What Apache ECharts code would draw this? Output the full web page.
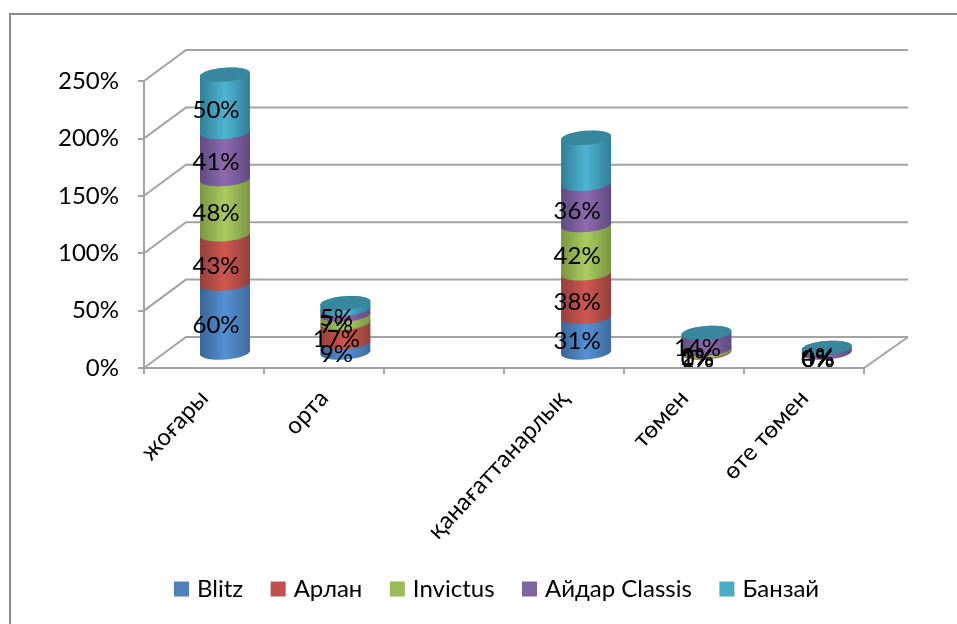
<!DOCTYPE html>
<html>
<head>
<meta charset="utf-8">
<style>html,body{margin:0;padding:0;background:#fff}#chart{width:957px;height:624px}</style>
<script src="https://cdn.jsdelivr.net/npm/echarts@6/dist/echarts.min.js"></script>
</head>
<body>
<div id="chart"></div>
<script>
// Categories and percentages per group; the third slot is an empty category.
const categories = ['жоғары', 'орта', '', 'қанағаттанарлық', 'төмен', 'өте төмен'];
const seriesNames = ['Blitz', 'Арлан', 'Invictus', 'Айдар Classis', 'Банзай'];
const blitz    = [60, 9,  null, 31, 0, 0];
const arlan    = [43, 17, null, 38, 1, 0];
const invictus = [48, 7,  null, 42, 2, 0];
const aidar    = [41, 5,  null, 36, 14, 4];
const banzai   = [50, 5,  null, 40, 0, 0];
const banzaiLabelled = [true, false, false, false, false, false];
const yTicks = [0, 50, 100, 150, 200, 250];

const legendColors = ['#4f81bd', '#c0504d', '#9bbb59', '#8064a2', '#4bacc6'];
const sideShades = [
  ['#3a6594', '#5690d6', '#3f6c9c'],
  ['#93403c', '#d0574f', '#93403c'],
  ['#7b9543', '#a9cc5f', '#7b9543'],
  ['#604a80', '#8e6ab0', '#604a80'],
  ['#337e98', '#4cb4d2', '#337e98']
];
const capColor = '#37889f';
const FONT = '"Lato","Noto Sans",sans-serif';
const gridColor = '#a3a3a3';

// Depth of the 3D floor, in pixels.
const DEPTH_X = 42, DEPTH_Y = 31;
const RX = 25, RY = 7, TILT = 1.8;

const allValues = [blitz, arlan, invictus, aidar, banzai];

// Sample the near or far half of a slightly tilted ellipse, left to right.
function arc(cx, cy, near) {
  const pts = [];
  for (let i = 0; i <= 24; i++) {
    const a = Math.PI * i / 24;
    const ex = -Math.cos(a);
    const ey = Math.sin(a) * (near ? 1 : -1);
    pts.push([cx + RX * ex, cy + RY * ey - TILT * ex]);
  }
  return pts;
}

function cylinderItem(seriesIndex) {
  return function (params, api) {
    const value = api.value(1);
    const base = api.value(2);
    if (isNaN(value)) return null;
    const foot = api.coord([api.value(0), base]);
    const head = api.coord([api.value(0), base + value]);
    const mid = api.coord([api.value(0), base + value / 2]);
    const grid = params.coordSys;
    // Columns sit midway into the floor depth, with a touch of perspective spread.
    const cx = 225 + (foot[0] - (grid.x + grid.width / 12)) * 1.003;
    const yb = foot[1] - DEPTH_Y / 2;
    const yt = head[1] - DEPTH_Y / 2;
    const children = [];
    if (value > 0) {
      const far = arc(cx, yt, false).reverse();
      children.push({
        type: 'polygon',
        shape: { points: arc(cx, yb, true).concat(far) },
        style: {
          fill: new echarts.graphic.LinearGradient(0, 0, 1, 0, [
            { offset: 0, color: sideShades[seriesIndex][0] },
            { offset: 0.5, color: sideShades[seriesIndex][1] },
            { offset: 1, color: sideShades[seriesIndex][2] }
          ])
        }
      });
    }
    if (seriesIndex === 4) {
      children.push({
        type: 'polygon',
        shape: { points: arc(cx, yt, true).concat(arc(cx, yt, false).reverse()) },
        style: { fill: capColor }
      });
    }
    const text = api.value(3);
    if (text) {
      children.push({
        type: 'text',
        z2: 100,
        style: {
          text: text,
          x: cx - 9,
          y: mid[1] - DEPTH_Y / 2 + 7,
          fill: '#000',
          font: '24px ' + FONT,
          align: 'center',
          verticalAlign: 'middle'
        }
      });
    }
    return { type: 'group', children: children };
  };
}

const stackBase = categories.map(() => 0);
const cylinderSeries = seriesNames.map((name, s) => {
  const data = categories.map((_, c) => {
    const v = allValues[s][c];
    const showLabel = v !== null && (s !== 4 || banzaiLabelled[c]);
    const row = [c, v === null ? NaN : v, stackBase[c], showLabel ? v + '%' : ''];
    stackBase[c] += v || 0;
    return row;
  });
  return {
    name: name,
    type: 'custom',
    coordinateSystem: 'cartesian2d',
    z: 3,
    clip: false,
    itemStyle: { color: legendColors[s] },
    encode: { x: 0, y: 1 },
    dimensions: ['cat', 'value', 'base', { name: 'label', type: 'ordinal' }],
    renderItem: cylinderItem(s),
    data: data
  };
});

// Side wall and back wall of the plot box, one bent line per value tick.
const wallSeries = {
  name: 'wall',
  type: 'custom',
  coordinateSystem: 'cartesian2d',
  z: 1,
  silent: true,
  clip: false,
  encode: { x: 0, y: 1 },
  renderItem: function (params, api) {
    const p = api.coord([0, api.value(1)]);
    const grid = params.coordSys;
    const left = grid.x, right = grid.x + grid.width;
    const lineStyle = { stroke: gridColor, lineWidth: 2, fill: null };
    const children = [{
      type: 'polyline',
      shape: { points: [[left, p[1]], [left + DEPTH_X, p[1] - DEPTH_Y], [right + DEPTH_X + 2, p[1] - DEPTH_Y]] },
      style: lineStyle
    }];
    if (api.value(1) === 0) {
      children.push({
        type: 'polyline',
        shape: { points: [[right, p[1]], [right + DEPTH_X + 2, p[1] - DEPTH_Y]] },
        style: lineStyle
      });
    }
    return { type: 'group', children: children };
  },
  data: yTicks.map(t => [0, t])
};

const chart = echarts.init(document.getElementById('chart'), null, { renderer: 'canvas' });
chart.setOption({
  animation: false,
  backgroundColor: '#fff',
  color: legendColors,
  grid: { left: 144, top: 81, width: 720, height: 287, containLabel: false },
  xAxis: {
    type: 'category',
    data: categories,
    boundaryGap: true,
    axisLine: { lineStyle: { color: gridColor, width: 2 } },
    axisTick: { show: true, alignWithLabel: false, length: 6, lineStyle: { color: gridColor, width: 2 } },
    axisLabel: { interval: 0, rotate: 47, margin: 26, color: '#000', fontSize: 24, fontFamily: FONT }
  },
  yAxis: {
    type: 'value',
    min: 0,
    max: 250,
    interval: 50,
    axisLine: { show: true, lineStyle: { color: gridColor, width: 2 } },
    axisTick: { show: true, length: 6, lineStyle: { color: gridColor, width: 2 } },
    splitLine: { show: false },
    axisLabel: { margin: 25, color: '#000', fontSize: 24, fontFamily: FONT, formatter: '{value}%' }
  },
  legend: {
    data: seriesNames.map(n => ({ name: n, icon: 'rect' })),
    left: 174,
    top: 577,
    padding: 0,
    itemWidth: 15,
    itemHeight: 15,
    itemGap: 27.5,
    textStyle: { color: '#000', fontSize: 24, fontFamily: FONT, padding: [0, 0, 0, 3] },
    selectedMode: false
  },
  graphic: [{
    type: 'polyline',
    silent: true,
    shape: { points: [[10, 624], [10, 14], [957, 14]] },
    style: { stroke: '#8a8a8a', lineWidth: 2, fill: null }
  }],
  series: [wallSeries].concat(cylinderSeries)
});
</script>
</body>
</html>
